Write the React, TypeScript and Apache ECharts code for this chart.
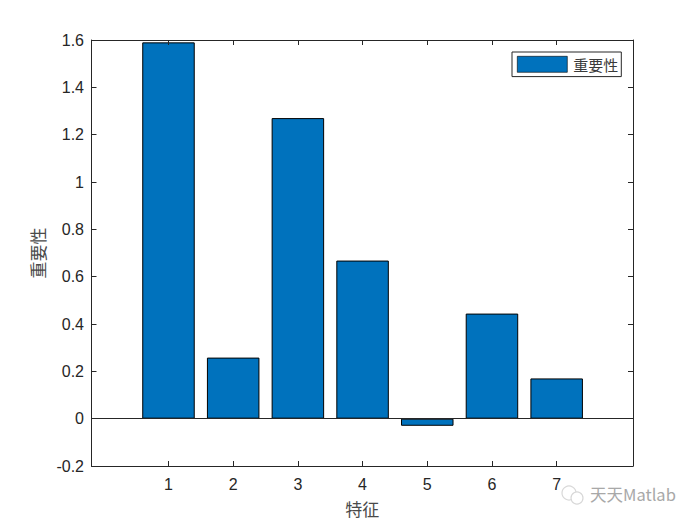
import React, { useEffect, useRef } from "react";
import * as echarts from "echarts";

const features = [1, 2, 3, 4, 5, 6, 7];
const importance = [1.59, 0.258, 1.27, 0.668, -0.03, 0.444, 0.17];
const seriesName = "重要性";
const xTitle = "特征";
const yTitle = "重要性";
const watermark = "天天Matlab";

const axisColor = "#262626";
const barColor = "#0072BD";
const sansFont = "'Liberation Sans', Arial, sans-serif";
const cjkFont = "'Noto Sans CJK SC', sans-serif";

export default function App() {
  const ref = useRef<HTMLDivElement>(null);
  useEffect(() => {
    const chart = echarts.init(ref.current!, undefined, { renderer: "svg" });
    const yFmt = (v: number) => String(Number(v.toFixed(1)));
    const lineStyle = { color: axisColor, width: 1 };
    chart.setOption({
      animation: false,
      backgroundColor: "#ffffff",
      grid: { left: 91.5, right: 67, top: 40, bottom: 59, containLabel: false },
      legend: {
        show: true,
        left: 512,
        top: 52,
        orient: "horizontal",
        data: [seriesName],
        icon: "rect",
        itemWidth: 50,
        itemHeight: 16,
        itemGap: 0,
        padding: [4, 3, 4, 5],
        backgroundColor: "#ffffff",
        borderColor: axisColor,
        borderWidth: 1,
        itemStyle: { color: barColor, borderColor: "#000000", borderWidth: 0.6 },
        textStyle: { fontFamily: cjkFont, fontSize: 15, color: "#3a3a3a", padding: [0, 0, 0, 1] },
      },
      xAxis: [
        {
          type: "value",
          min: -0.19,
          max: 8.18,
          position: "bottom",
          z: 5,
          name: xTitle,
          nameLocation: "middle",
          nameGap: 34,
          nameTextStyle: { fontFamily: cjkFont, fontSize: 17, color: "#4a4a4a" },
          axisLine: { show: true, onZero: false, lineStyle },
          axisTick: { show: true, inside: true, length: 5, lineStyle, customValues: features },
          axisLabel: { show: true, color: axisColor, fontFamily: sansFont, fontSize: 16, margin: 10, customValues: features, formatter: (v: number) => String(v) },
          splitLine: { show: false },
        },
        {
          type: "value",
          min: -0.19,
          max: 8.18,
          position: "top",
          z: 5,
          axisLine: { show: true, onZero: false, lineStyle },
          axisTick: { show: true, inside: true, length: 5, lineStyle, customValues: features },
          axisLabel: { show: false },
          splitLine: { show: false },
        },
      ],
      yAxis: [
        {
          type: "value",
          min: -0.2,
          max: 1.6,
          interval: 0.2,
          position: "left",
          z: 5,
          name: yTitle,
          nameLocation: "middle",
          nameGap: 41,
          nameRotate: 90,
          nameTextStyle: { fontFamily: cjkFont, fontSize: 17, color: "#4a4a4a" },
          axisLine: { show: true, onZero: false, lineStyle },
          axisTick: { show: true, inside: true, length: 5, lineStyle },
          axisLabel: { show: true, color: axisColor, fontFamily: sansFont, fontSize: 16, margin: 7.5, formatter: yFmt },
          splitLine: { show: false },
        },
        {
          type: "value",
          min: -0.2,
          max: 1.6,
          interval: 0.2,
          position: "right",
          z: 5,
          axisLine: { show: true, onZero: false, lineStyle },
          axisTick: { show: true, inside: true, length: 5, lineStyle },
          axisLabel: { show: false },
          splitLine: { show: false },
        },
      ],
      series: [
        {
          name: seriesName,
          type: "bar",
          xAxisIndex: 0,
          yAxisIndex: 0,
          barWidth: 52.5,
          data: features.map((f, i) => [f, importance[i]]),
          itemStyle: { color: barColor, borderColor: "#000000", borderWidth: 1 },
          markLine: {
            silent: true,
            symbol: "none",
            label: { show: false },
            lineStyle: { color: axisColor, width: 1, type: "solid" },
            data: [{ yAxis: 0 }],
          },
        },
      ],
      graphic: [
        { type: "circle", shape: { cx: 569, cy: 493, r: 7 }, style: { fill: "none", stroke: "#d8d8d8", lineWidth: 1.2 }, z: 10 },
        { type: "circle", shape: { cx: 577, cy: 498, r: 6 }, style: { fill: "#ffffff", stroke: "#d8d8d8", lineWidth: 1.2 }, z: 10 },
        { type: "text", x: 590, y: 486, z: 10, style: { text: watermark, fontFamily: cjkFont, fontSize: 16.5, fill: "#a8a8a8" } },
      ],
    });
    return () => chart.dispose();
  }, []);
  return <div ref={ref} style={{ position: "fixed", left: 0, top: 0, width: 700, height: 525, background: "#fff" }} />;
}
